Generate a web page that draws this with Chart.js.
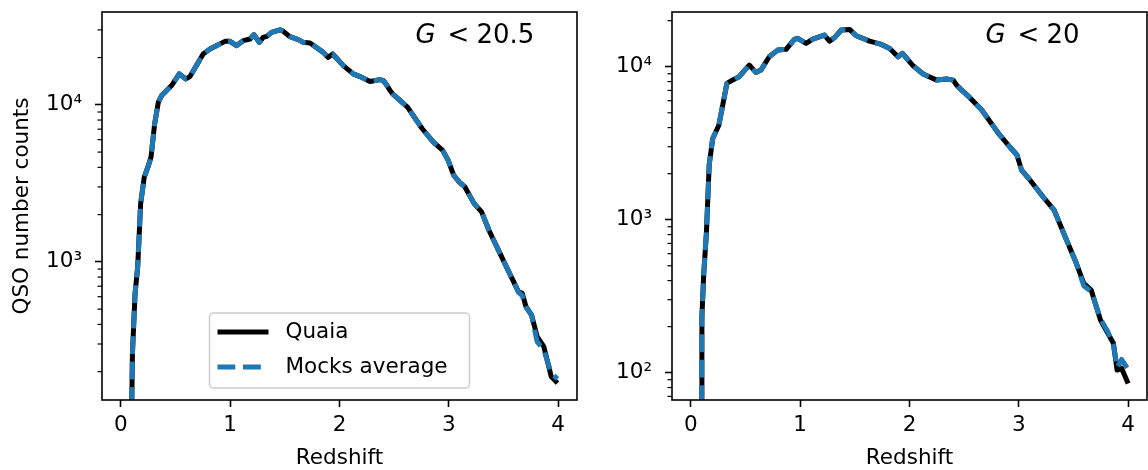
<!DOCTYPE html>
<html>
<head>
<meta charset="utf-8">
<script src="https://cdn.jsdelivr.net/npm/chart.js@4.4.0/dist/chart.umd.min.js"></script>
<style>
  body { margin: 0; background: #fff; }
  #wrap { position: relative; width: 1148px; height: 470px; }
  canvas { position: absolute; top: 0; }
</style>
</head>
<body>
<div id="wrap">
  <canvas id="left" width="580" height="470" style="left:0"></canvas>
  <canvas id="right" width="568" height="470" style="left:580px"></canvas>
</div>
<script>
// G < 20.5 panel
const zLeft = [0.09, 0.106, 0.130, 0.154, 0.181, 0.214, 0.248, 0.276, 0.309, 0.343, 0.373, 0.464, 0.534, 0.595,
  0.632, 0.753, 0.815, 0.952, 0.998, 1.059, 1.119, 1.181, 1.217, 1.266, 1.302, 1.334, 1.379, 1.455, 1.486,
  1.547, 1.623, 1.669, 1.730, 1.852, 1.897, 1.938, 2.035, 2.126, 2.188, 2.279, 2.371, 2.401, 2.435, 2.462,
  2.486, 2.622, 2.757, 2.859, 2.944, 2.994, 3.045, 3.096, 3.147, 3.232, 3.300, 3.367, 3.469, 3.571, 3.638,
  3.672, 3.706, 3.757, 3.808, 3.869, 3.937, 3.994];
const quaiaLeft = [40, 262, 630, 929, 2350, 3470, 4020, 4650, 7570, 10400, 11460, 13270, 15740, 14620,
  15130, 21090, 22690, 25360, 25360, 23830, 25620, 26240, 27980, 25000, 26880, 27290, 28920, 30060, 29360,
  27160, 26010, 25000, 24780, 21570, 20050, 21080, 17780, 15740, 15130, 14070, 14480, 14270, 13270, 12330,
  11750, 9660, 7040, 5780, 5130, 4430, 3560, 3220, 3000, 2350, 2080, 1590, 1130, 803, 645,
  630, 518, 458, 334, 289, 186, 169];
const mocksLeft = [40, 262, 630, 929, 2350, 3470, 4020, 4650, 7570, 10400, 11460, 13270, 15740, 14620,
  15130, 21090, 22690, 25360, 25360, 23830, 25620, 26240, 27980, 25000, 26880, 27290, 28920, 30060, 29360,
  27160, 26010, 25000, 24780, 21570, 20050, 21080, 17780, 15740, 15130, 14070, 14480, 14270, 13270, 12330,
  11750, 9660, 7040, 5780, 5130, 4430, 3560, 3220, 3000, 2350, 2080, 1590, 1130, 803, 640,
  610, 518, 458, 310, 275, 195, 180];

// G < 20 panel
const zRight = [0.095, 0.101, 0.118, 0.142, 0.168, 0.200, 0.256, 0.330, 0.365, 0.442, 0.534, 0.595, 0.641,
  0.717, 0.794, 0.871, 0.947, 0.977, 1.054, 1.115, 1.222, 1.268, 1.314, 1.376, 1.452, 1.513, 1.635, 1.743,
  1.819, 1.895, 1.936, 2.033, 2.125, 2.248, 2.340, 2.400, 2.430, 2.462, 2.543, 2.661, 2.814, 2.916, 2.983,
  3.025, 3.102, 3.221, 3.323, 3.424, 3.526, 3.594, 3.662, 3.747, 3.814, 3.865, 3.899, 3.940, 4.000];
const quaiaRight = [20, 232, 446, 815, 2300, 3400, 4150, 7790, 8065, 8610, 10260, 9190, 9510,
  11620, 12850, 12990, 15110, 15350, 14230, 15170, 16100, 14720, 15490, 17380, 17550, 15960, 14720, 13990,
  13180, 11620, 12240, 10150, 8960, 8180, 8310, 8180, 7600, 7200, 6370, 5210, 3670, 3000, 2650,
  2110, 1820, 1413, 1156, 774, 519, 384, 347, 221, 181, 156, 104, 107, 85];
const mocksRight = [20, 232, 446, 815, 2300, 3400, 4150, 7790, 8065, 8610, 10260, 9190, 9510,
  11620, 12850, 12990, 15110, 15350, 14230, 15170, 16100, 14720, 15490, 17380, 17550, 15960, 14720, 13990,
  13180, 11620, 12240, 10150, 8960, 8180, 8310, 8180, 7600, 7200, 6370, 5210, 3670, 3000, 2650,
  2110, 1820, 1413, 1156, 774, 519, 370, 340, 225, 185, 152, 108, 122, 105];

const xTicks = [0, 1, 2, 3, 4];
const yTicksLeft = [1e3, 1e4];
const yTickLabelsLeft = ['10³', '10⁴'];
const yTicksRight = [1e2, 1e3, 1e4];
const yTickLabelsRight = ['10²', '10³', '10⁴'];
const cuts = ['20.5', '20'];
const seriesNames = ['Quaia', 'Mocks average'];

Chart.defaults.font.family = '"DejaVu Sans"';
Chart.defaults.font.size = 21.5;
Chart.defaults.color = '#000';

const FONT = '"DejaVu Sans"';

const panelExtras = {
  id: 'panelExtras',
  afterDraw(chart, args, opts) {
    const {ctx, chartArea: a} = chart;
    const y = chart.scales.y;
    ctx.save();
    // minor ticks on the log axis
    ctx.strokeStyle = '#000';
    ctx.lineWidth = 1.2;
    for (let e = Math.floor(Math.log10(y.min)); e <= Math.ceil(Math.log10(y.max)); e++) {
      for (let m = 2; m <= 9; m++) {
        const v = m * Math.pow(10, e);
        if (v < y.min || v > y.max) continue;
        const py = y.getPixelForValue(v);
        ctx.beginPath();
        ctx.moveTo(a.left - 4.5, py);
        ctx.lineTo(a.left, py);
        ctx.stroke();
      }
    }
    // axes frame
    ctx.lineWidth = 1.6;
    ctx.strokeRect(a.left, a.top, a.right - a.left, a.bottom - a.top);

    // magnitude cut label
    const tx = a.left + 0.66 * (a.right - a.left);
    const ty = a.top + 31;
    ctx.fillStyle = '#000';
    ctx.textAlign = 'left';
    ctx.textBaseline = 'alphabetic';
    ctx.font = 'italic 26px ' + FONT;
    ctx.fillText('G', tx, ty);
    ctx.font = '26px ' + FONT;
    ctx.fillText('<', tx + 32, ty);
    ctx.fillText(opts.cut, tx + 61, ty);

    // legend, lower center
    if (opts.legend) {
      const w = 260, h = 75;
      const bx = (a.left + a.right) / 2 - w / 2;
      const by = a.bottom - 12 - h;
      ctx.fillStyle = 'rgba(255,255,255,0.8)';
      ctx.strokeStyle = '#cccccc';
      ctx.lineWidth = 1.5;
      ctx.beginPath();
      ctx.roundRect(bx, by, w, h, 4);
      ctx.fill();
      ctx.stroke();
      chart.data.datasets.forEach((ds, i) => {
        const ry = by + 19 + i * 35;
        ctx.strokeStyle = ds.borderColor;
        ctx.lineWidth = ds.borderWidth;
        ctx.setLineDash(ds.borderDash || []);
        ctx.beginPath();
        ctx.moveTo(bx + 8, ry);
        ctx.lineTo(bx + 59, ry);
        ctx.stroke();
        ctx.setLineDash([]);
        ctx.fillStyle = '#000';
        ctx.font = '21.5px ' + FONT;
        ctx.textBaseline = 'middle';
        ctx.fillText(ds.label, bx + 76, ry);
      });
    }
    ctx.restore();
  }
};

function makePanel(id, z, quaia, mocks, yMin, yMax, yTicks, yLabels, cut, axisWidth, padRight, first) {
  new Chart(document.getElementById(id), {
    type: 'line',
    data: {
      datasets: [{
        label: seriesNames[0],
        data: z.map((v, i) => ({x: v, y: quaia[i]})),
        borderColor: '#000000',
        borderWidth: 5,
        borderJoinStyle: 'round',
        pointRadius: 0,
        fill: false,
        tension: 0,
        clip: 0,
        order: 2
      }, {
        label: seriesNames[1],
        data: z.map((v, i) => ({x: v, y: mocks[i]})),
        borderColor: '#1f77b4',
        borderWidth: 5,
        borderDash: [17.8, 7.7],
        borderJoinStyle: 'round',
        pointRadius: 0,
        fill: false,
        tension: 0,
        clip: 0,
        order: 1
      }]
    },
    options: {
      responsive: false,
      animation: false,
      devicePixelRatio: 1,
      layout: {padding: {top: 12, right: padRight, left: 0, bottom: 0}},
      plugins: {
        legend: {display: false},
        tooltip: {enabled: false},
        panelExtras: {cut: cut, legend: first}
      },
      scales: {
        x: {
          type: 'linear',
          min: -0.1725,
          max: 4.1725,
          afterBuildTicks: s => { s.ticks = xTicks.map(v => ({value: v})); },
          afterFit: s => { s.height = 70; s.paddingLeft = 0; s.paddingRight = 0; },
          ticks: {autoSkip: false, maxRotation: 0, padding: 6, callback: v => String(v)},
          grid: {drawOnChartArea: false, tickLength: 7, tickWidth: 1.6, tickColor: '#000'},
          border: {display: false},
          title: {display: true, text: 'Redshift', font: {size: 21.5, lineHeight: 1}, padding: {top: 0, bottom: 1}}
        },
        y: {
          type: 'logarithmic',
          min: yMin,
          max: yMax,
          afterBuildTicks: s => { s.ticks = yTicks.map(v => ({value: v})); },
          afterFit: s => { s.width = axisWidth; s.paddingTop = 0; s.paddingBottom = 0; },
          ticks: {autoSkip: false, padding: 13, callback: v => yLabels[yTicks.indexOf(v)]},
          grid: {drawOnChartArea: false, tickLength: 7, tickWidth: 1.6, tickColor: '#000'},
          border: {display: false},
          title: {display: first, text: 'QSO number counts', font: {size: 21.5, lineHeight: 1}, padding: {top: 12, bottom: 0}}
        }
      }
    },
    plugins: [panelExtras]
  });
}

makePanel('left', zLeft, quaiaLeft, mocksLeft, 132, 39000, yTicksLeft, yTickLabelsLeft, cuts[0], 102, 3, true);
makePanel('right', zRight, quaiaRight, mocksRight, 66.3, 22800, yTicksRight, yTickLabelsRight, cuts[1], 92, 1, false);
</script>
</body>
</html>
